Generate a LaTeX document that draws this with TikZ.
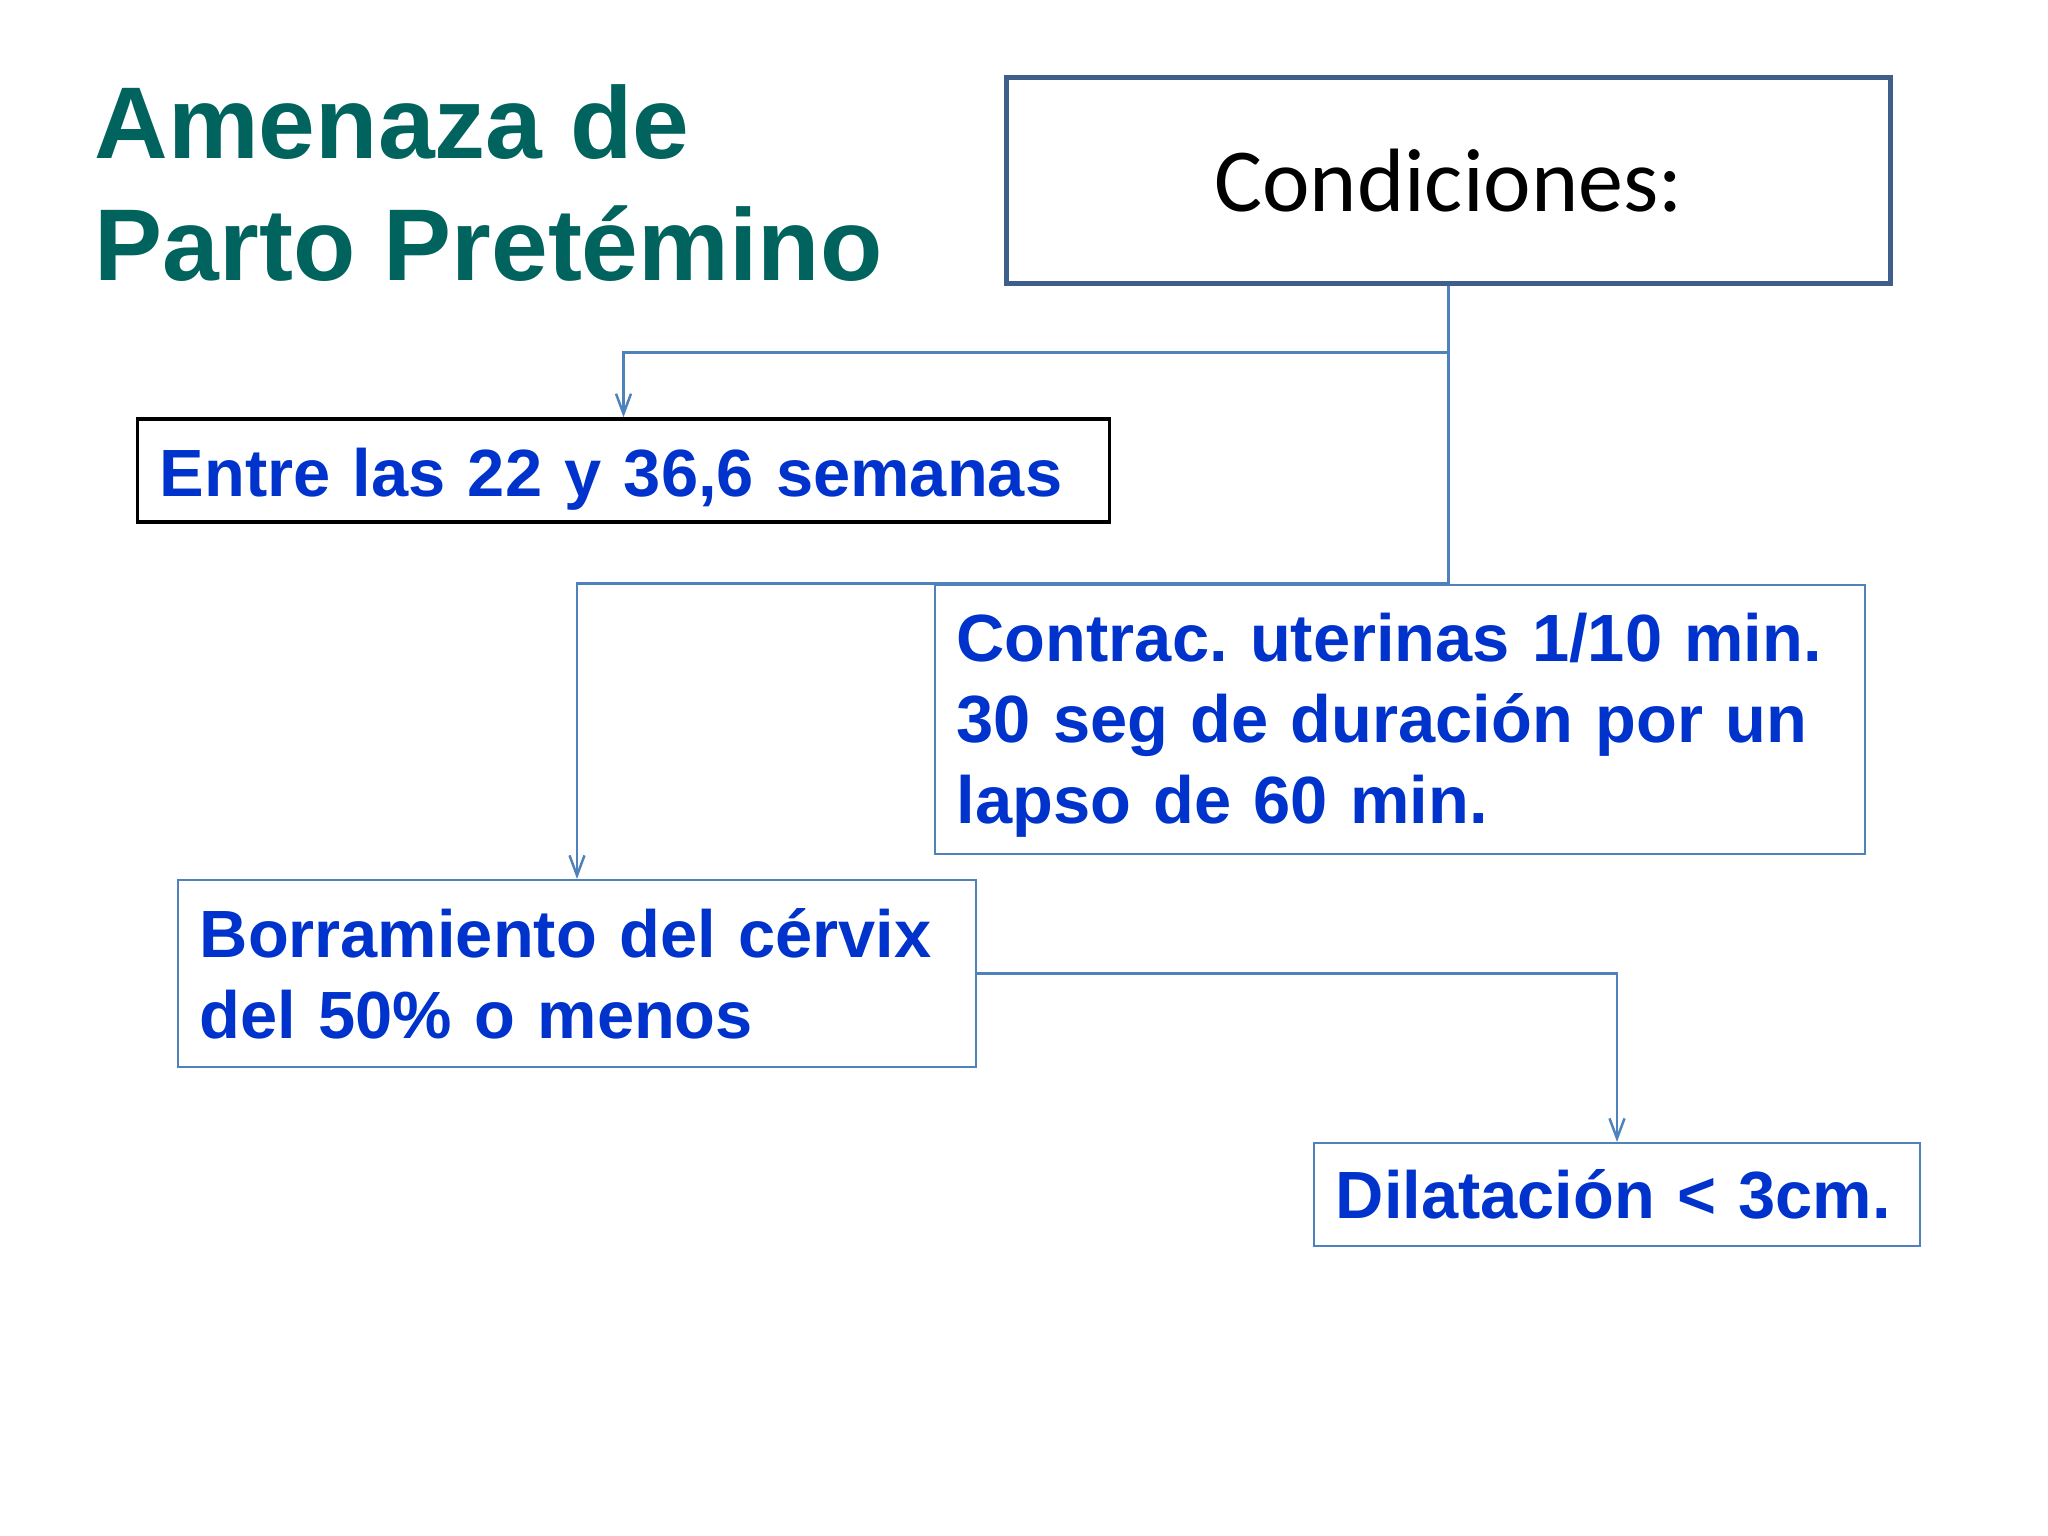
\documentclass[tikz,border=0pt]{standalone}
\usepackage{fontspec}
\setmainfont{Liberation Sans}
\newfontfamily\calibri{Carlito}
\usepackage{xcolor}
\usetikzlibrary{arrows.meta}

\definecolor{titleteal}{RGB}{0,99,94}
\definecolor{condblue}{RGB}{62,95,140}
\definecolor{accentblue}{RGB}{79,129,189}
\definecolor{textblue}{RGB}{0,51,204}

\begin{document}
\begin{tikzpicture}[x=0.01cm,y=-0.01cm,>={Straight Barb[length=2mm,width=1.5mm]},
    box/.style={draw=accentblue,line width=0.6pt,inner xsep=0.22cm,inner ysep=0pt,align=left,text=textblue,font=\bfseries\fontsize{19}{23}\selectfont\frenchspacing},
    link/.style={draw=accentblue,line width=0.7pt}]

            \useasboundingbox[fill=white] (0,0) rectangle (2048,1536);

            \node[anchor=north west,inner sep=0pt,align=left,text=titleteal,font=\bfseries\fontsize{29}{34.7}\selectfont] (0) at (94,84) {Amenaza de\\Parto Pretémino};

            \node[draw=condblue,line width=1.4pt,minimum width=8.83cm,minimum height=2.05cm,font=\calibri\fontsize{25.6}{30}\selectfont] (1) at (1448.5,180.5) {Condiciones:};
            \node[box,draw=black,line width=1pt,text width=9.27cm,text height=0.66cm,text depth=0.15cm,minimum height=1.03cm] (2) at (623.5,470.5) {Entre las 22 y 36,6 semanas};
            \node[box,text width=8.86cm,text height=0.55cm,text depth=1.70cm,minimum height=2.69cm] (3) at (1400,719.5) {Contrac. uterinas 1/10 min.\\30 seg de duración por un\\lapso de 60 min.};
            \node[box,text width=7.54cm,minimum height=1.87cm] (4) at (577,973.5) {Borramiento del cérvix\\del 50\% o menos};
            \node[box,text width=5.62cm,minimum height=1.03cm] (5) at (1617,1194.5) {Dilatación < 3cm.};

            \draw[link,->] (1.south) -- ++(0,67) -| (2.north);
            \draw[link,->] (1.south) -- ++(0,298) -| (4.north);
            \draw[link,->] (4.east) -| (5.north);

            ;
        \end{tikzpicture}
\end{document}
